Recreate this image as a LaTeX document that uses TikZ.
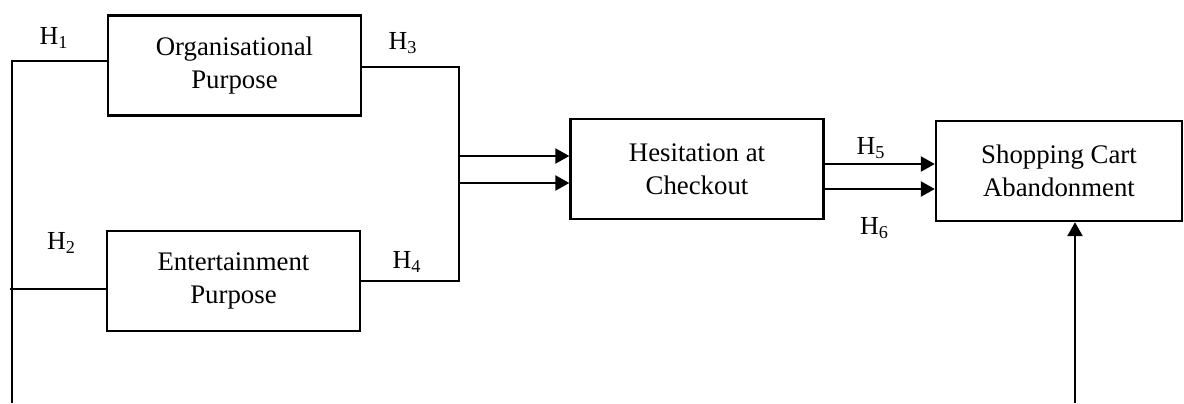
\documentclass[tikz,border=0pt]{standalone}
\usepackage{fontspec}
\setmainfont{Liberation Serif}
\usetikzlibrary{arrows.meta,calc}
\begin{document}
\begin{tikzpicture}[x=0.5pt,y=-0.5pt,
  box/.style={draw,line width=1.2pt,minimum width=126.5pt,minimum height=50pt,inner sep=0pt,align=center,
    font=\fontsize{13.4}{16.5}\selectfont},
  hlab/.style={inner sep=0pt,font=\fontsize{13}{14}\selectfont},
  conn/.style={line width=1.2pt},
  arr/.style={line width=1.2pt,-{Triangle[length=7pt,width=7.5pt]}}]
\useasboundingbox (0,0) rectangle (1184,403);
\node[box] (org) at (234.5,65.5) {Organisational\\Purpose};
\node[box] (ent) at (233.5,281) {Entertainment\\Purpose};
\node[box] (hes) at (697,169) {Hesitation at\\Checkout};
\node[box,minimum width=123pt] (shop) at (1059,171) {Shopping Cart\\Abandonment};
% labels
\node[hlab] (h1) at (54,38) {H\textsubscript{1}};
\node[hlab] (h2) at (61.5,243) {H\textsubscript{2}};
\node[hlab] (h3) at (403,43) {H\textsubscript{3}};
\node[hlab] (h4) at (407,262) {H\textsubscript{4}};
\node[hlab] (h5) at (871,148) {H\textsubscript{5}};
\node[hlab] (h6) at (874.5,228) {H\textsubscript{6}};
% coordinates
\coordinate (bl) at (12,403);
\coordinate (j2) at (10,289);
\coordinate (jr) at (459,281);
\coordinate (br) at (1075,403);
\coordinate (a1) at ([yshift=6.5pt]hes.west);
\coordinate (a2) at ([yshift=-7pt]hes.west);
\coordinate (b1s) at ([yshift=2.5pt]hes.east);
\coordinate (b2s) at ([yshift=-10pt]hes.east);
% connectors
\draw[conn] (bl) |- ([yshift=2.25pt]org.west);
\draw[conn] (j2) -- ([yshift=-4pt]ent.west);
\draw[conn] ([yshift=-0.75pt]org.east) -| (jr) -- (ent.east);
\draw[arr] (a1 -| jr) -- (a1);
\draw[arr] (a2 -| jr) -- (a2);
\draw[arr] (b1s) -- (b1s -| shop.west);
\draw[arr] (b2s) -- (b2s -| shop.west);
\draw[arr] (br) -- (br |- shop.south);
\end{tikzpicture}
\end{document}
